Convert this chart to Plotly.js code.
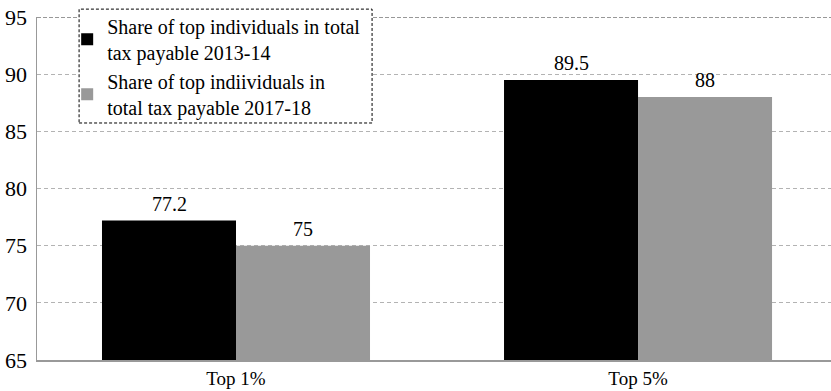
<!DOCTYPE html>
<html>
<head>
<meta charset="utf-8">
<script src="https://cdn.plot.ly/plotly-3.0.1.min.js"></script>
<style>
  html, body { margin: 0; padding: 0; background: #fff; }
  #chart { width: 831px; height: 391px; }
</style>
</head>
<body>
<div id="chart"></div>
<script>
// Share of top individuals in total tax payable (%)
const categories = ['Top 1%', 'Top 5%'];
const share2013 = [77.2, 89.5];
const share2018 = [75, 88];
const seriesNames = [
  'Share of top individuals in total<br>tax payable 2013-14',
  'Share of top indiividuals in<br>total tax payable 2017-18'
];
const yTicks = [65, 70, 75, 80, 85, 90, 95];

const serif = 'Liberation Serif';

const traces = [
  { type: 'bar', x: categories, y: share2013, name: seriesNames[0],
    marker: { color: '#000000' }, offsetgroup: 'a' },
  { type: 'bar', x: categories, y: share2018, name: seriesNames[1],
    marker: { color: '#999999' }, offsetgroup: 'b' }
];

// value labels above each bar, built from the same arrays
const annotations = [];
[share2013, share2018].forEach((vals, s) => {
  vals.forEach((v, i) => {
    annotations.push({
      x: i + (s === 0 ? -1 : 1) * (1 / 6), xref: 'x', y: v, yref: 'y',
      text: String(v), showarrow: false, yanchor: 'bottom', yshift: 4,
      font: { family: serif, size: 20, color: '#000' }
    });
  });
});

const layout = {
  width: 831, height: 391,
  margin: { l: 37, r: 0, t: 17, b: 31 },
  paper_bgcolor: '#fff', plot_bgcolor: '#fff',
  font: { family: serif, color: '#000' },
  barmode: 'group', bargap: 1 / 3, bargroupgap: 0,
  showlegend: true,
  legend: {
    x: 0.038, xanchor: 'left', y: 1.03, yanchor: 'top',
    bgcolor: 'rgba(0,0,0,0)', borderwidth: 0,
    font: { family: serif, size: 20, color: '#000' },
    tracegroupgap: 2, itemclick: false
  },
  xaxis: {
    type: 'category', range: [-0.495, 1.48],
    showline: true, linecolor: '#999', linewidth: 2,
    ticks: '', showgrid: false,
    tickfont: { family: serif, size: 19, color: '#000' }
  },
  yaxis: {
    range: [65, 95], tickvals: yTicks, ticktext: yTicks.map(String),
    showline: true, linecolor: '#999', linewidth: 1.5,
    showgrid: true, gridcolor: '#b3b3b3', griddash: '4px,3px', gridwidth: 1,
    zeroline: false, ticks: '', ticklabelstandoff: 4,
    tickfont: { family: serif, size: 22, color: '#000' }
  },
  shapes: [
    // darker dashed line along the top of the plot
    { type: 'line', xref: 'paper', yref: 'y', x0: 0, x1: 1, y0: 95, y1: 95,
      line: { color: '#333', width: 1, dash: '4px,2px' }, layer: 'above' },
    // dashed legend box
    { type: 'rect', xref: 'paper', yref: 'paper',
      x0: 0.053, x1: 0.422, y0: 0.691, y1: 1.023,
      fillcolor: '#fff', line: { color: '#000', width: 1, dash: '3px,2px' },
      layer: 'above' }
  ],
  annotations: annotations
};

Plotly.newPlot('chart', traces, layout, { displayModeBar: false, staticPlot: true });
</script>
</body>
</html>
